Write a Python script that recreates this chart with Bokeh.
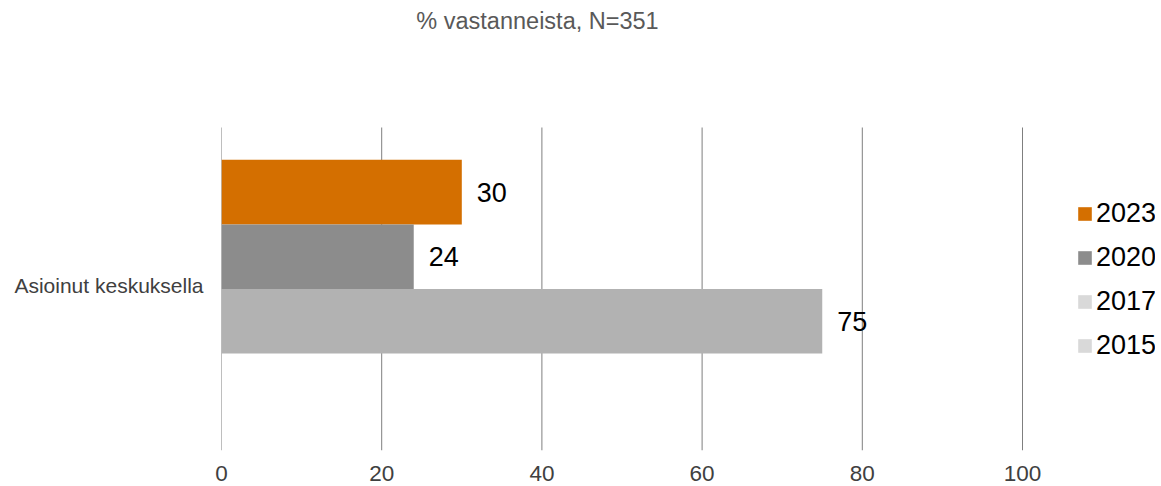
from bokeh.plotting import figure
from bokeh.models import ColumnDataSource, Legend, LegendItem, Range1d, FixedTicker, Label
from bokeh.core.properties import value
from bokeh.embed import file_html
from bokeh.resources import INLINE

title_text = "% vastanneista, N=351"
category = "Asioinut keskuksella"
years = ["2023", "2020", "2017", "2015"]
values = [30, 24, 75, None]
bar_colors = ["#D46F00", "#8C8C8C", "#B2B2B2", "#D9D9D9"]
legend_colors = ["#D46F00", "#8C8C8C", "#D9D9D9", "#D9D9D9"]
x_ticks = [0, 20, 40, 60, 80, 100]

FONT = "Liberation Sans"
W, H = 1155, 486
LEFT, BOTTOM = 221, 36
PX_PER_UNIT = 8.01          # horizontal pixels per percent
BAND_PX = 323               # height of the category band in pixels
BAR_H = 0.2                 # bar thickness in band units
frame_w = W - LEFT
frame_h = H - BOTTOM

p = figure(width=W, height=H, output_backend="svg", toolbar_location=None,
           x_range=Range1d(0, frame_w / PX_PER_UNIT),
           y_range=Range1d(0, frame_h / BAND_PX),
           min_border_left=LEFT, min_border_right=0, min_border_top=0, min_border_bottom=BOTTOM)
p.title = None
p.outline_line_color = None
p.xgrid.grid_line_color = None
p.ygrid.grid_line_color = None

# vertical grid lines at the x ticks, spanning the category band
p.segment(x0=x_ticks, x1=x_ticks, y0=[0] * len(x_ticks), y1=[1] * len(x_ticks),
          line_color="#7F7F7F", line_width=1)

cat_center = 0.5
legend_items = []
for i, (yr, v, bc, lc) in enumerate(zip(years, values, bar_colors, legend_colors)):
    yc = cat_center + (1.5 - i) * BAR_H
    if v is not None:
        src = ColumnDataSource(dict(y=[yc], v=[v], lbl=[str(v)]))
        p.hbar(y="y", right="v", left=0, height=BAR_H, source=src,
               fill_color=bc, line_color=None)
        p.text(x="v", y="y", text="lbl", source=src, x_offset=15,
               text_baseline="middle", text_align="left",
               text_font=value(FONT), text_font_size="27px", text_color="black")
    # zero-width proxy bar that only provides the legend swatch colour
    swatch = p.hbar(y=[yc], right=[0], left=[0], height=BAR_H, fill_color=lc, line_color=None)
    legend_items.append(LegendItem(label=yr, renderers=[swatch]))

legend = Legend(items=legend_items, location=(855, 89), orientation="vertical",
                glyph_width=17, glyph_height=17, label_height=30, spacing=13,
                label_standoff=3, padding=0, margin=0,
                label_text_font=FONT, label_text_font_size="27px", label_text_color="black",
                border_line_color=None, background_fill_alpha=0)
p.add_layout(legend, "center")

# chart title (above the category band)
p.add_layout(Label(x=(537 - LEFT) / PX_PER_UNIT, y=(frame_h - 20) / BAND_PX, text=title_text,
                   text_align="center", text_baseline="middle",
                   text_font=FONT, text_font_size="23.5px", text_color="#595959"))

p.xaxis.ticker = FixedTicker(ticks=x_ticks)
p.xaxis.axis_line_color = None
p.xaxis.major_tick_line_color = None
p.xaxis.minor_tick_line_color = None
p.xaxis.major_tick_in = 0
p.xaxis.major_tick_out = 0
p.xaxis.major_label_standoff = 15
p.xaxis.major_label_text_font = FONT
p.xaxis.major_label_text_font_size = "22.5px"
p.xaxis.major_label_text_color = "#404040"

label_tick = cat_center + 0.01
p.yaxis.ticker = FixedTicker(ticks=[label_tick])
p.yaxis.major_label_overrides = {label_tick: category}
p.yaxis.axis_line_color = None
p.yaxis.major_tick_line_color = None
p.yaxis.minor_tick_line_color = None
p.yaxis.major_tick_in = 0
p.yaxis.major_tick_out = 0
p.yaxis.major_label_standoff = 18
p.yaxis.major_label_text_font = FONT
p.yaxis.major_label_text_font_size = "21px"
p.yaxis.major_label_text_color = "#404040"

open("out.html", "w").write(file_html(p, INLINE))
